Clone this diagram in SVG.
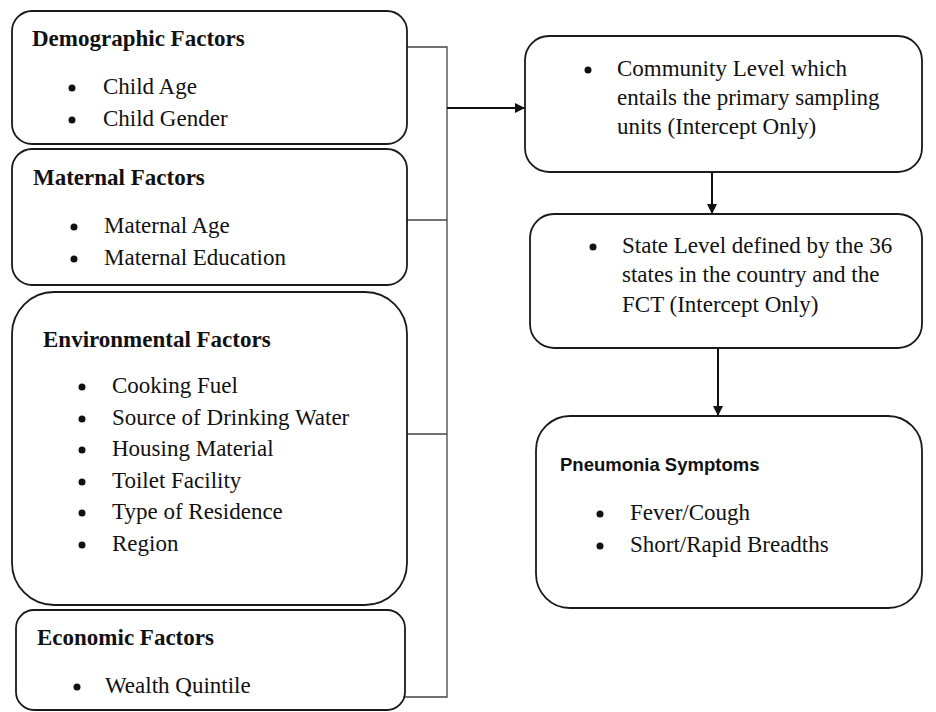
<svg xmlns="http://www.w3.org/2000/svg" width="936" height="712" viewBox="0 0 936 712">
<style>
.box{fill:#fff;stroke:#1a1a1a;stroke-width:1.8}
.t{font-family:"Liberation Serif","Times New Roman",serif;font-size:23px;font-weight:bold;fill:#111}
.i{font-family:"Liberation Serif","Times New Roman",serif;font-size:23px;fill:#111}
.s{font-family:"Liberation Sans",Arial,sans-serif;font-size:18.5px;font-weight:bold;fill:#111}
.b{fill:#111}
.c{fill:none;stroke:#444;stroke-width:1.3}
.a{fill:none;stroke:#111;stroke-width:2}
</style>
<defs>
<marker id="ah" markerWidth="10" markerHeight="10" refX="9" refY="5" orient="auto" markerUnits="userSpaceOnUse">
<path d="M0,0 L10,5 L0,10 Z" fill="#111"/>
</marker>
</defs>
<rect width="936" height="712" fill="#fff"/>
<g id="connectors">
<polyline class="c" points="407,47 447,47 447,697 405,697"/>
<line class="c" x1="407" y1="220" x2="447" y2="220"/>
<line class="c" x1="407" y1="434" x2="447" y2="434"/>
<line class="a" x1="447" y1="108" x2="524" y2="108" marker-end="url(#ah)"/>
<line class="a" x1="712" y1="172" x2="712" y2="213" marker-end="url(#ah)"/>
<line class="a" x1="718" y1="348" x2="718" y2="415" marker-end="url(#ah)"/>
</g>
<g id="demographic">
<rect class="box" x="12" y="11" width="395" height="133" rx="20"/>
<text class="t" x="32" y="46">Demographic Factors</text>
<circle class="b" cx="72" cy="88" r="3.5"/><text class="i" x="103" y="94">Child Age</text>
<circle class="b" cx="72" cy="120" r="3.5"/><text class="i" x="103" y="126">Child Gender</text>
</g>
<g id="maternal">
<rect class="box" x="12" y="149" width="395" height="136" rx="20"/>
<text class="t" x="33" y="185">Maternal Factors</text>
<circle class="b" cx="74" cy="227" r="3.5"/><text class="i" x="104" y="233">Maternal Age</text>
<circle class="b" cx="74" cy="259" r="3.5"/><text class="i" x="104" y="265">Maternal Education</text>
</g>
<g id="environmental">
<rect class="box" x="12" y="292" width="395" height="313" rx="42"/>
<text class="t" x="43" y="347">Environmental Factors</text>
<circle class="b" cx="82" cy="387" r="3.5"/><text class="i" x="112" y="393">Cooking Fuel</text>
<circle class="b" cx="82" cy="419" r="3.5"/><text class="i" x="112" y="425">Source of Drinking Water</text>
<circle class="b" cx="82" cy="450" r="3.5"/><text class="i" x="112" y="456">Housing Material</text>
<circle class="b" cx="82" cy="482" r="3.5"/><text class="i" x="112" y="488">Toilet Facility</text>
<circle class="b" cx="82" cy="513" r="3.5"/><text class="i" x="112" y="519">Type of Residence</text>
<circle class="b" cx="82" cy="545" r="3.5"/><text class="i" x="112" y="551">Region</text>
</g>
<g id="economic">
<rect class="box" x="16" y="610" width="389" height="100" rx="18"/>
<text class="t" x="37" y="645">Economic Factors</text>
<circle class="b" cx="77" cy="687" r="3.5"/><text class="i" x="105" y="693">Wealth Quintile</text>
</g>
<g id="community">
<rect class="box" x="525" y="36" width="397" height="136" rx="24"/>
<circle class="b" cx="588" cy="70" r="3.5"/>
<text class="i" x="617" y="76">Community Level which</text>
<text class="i" x="617" y="105">entails the primary sampling</text>
<text class="i" x="617" y="134">units (Intercept Only)</text>
</g>
<g id="state">
<rect class="box" x="530" y="214" width="392" height="134" rx="24"/>
<circle class="b" cx="593" cy="247" r="3.5"/>
<text class="i" x="622" y="253">State Level defined by the 36</text>
<text class="i" x="622" y="282">states in the country and the</text>
<text class="i" x="622" y="312">FCT (Intercept Only)</text>
</g>
<g id="pneumonia">
<rect class="box" x="536" y="416" width="386" height="192" rx="34"/>
<text class="s" x="560" y="471">Pneumonia Symptoms</text>
<circle class="b" cx="600" cy="514" r="3.5"/><text class="i" x="630" y="520">Fever/Cough</text>
<circle class="b" cx="600" cy="546" r="3.5"/><text class="i" x="630" y="552">Short/Rapid Breadths</text>
</g>
</svg>
